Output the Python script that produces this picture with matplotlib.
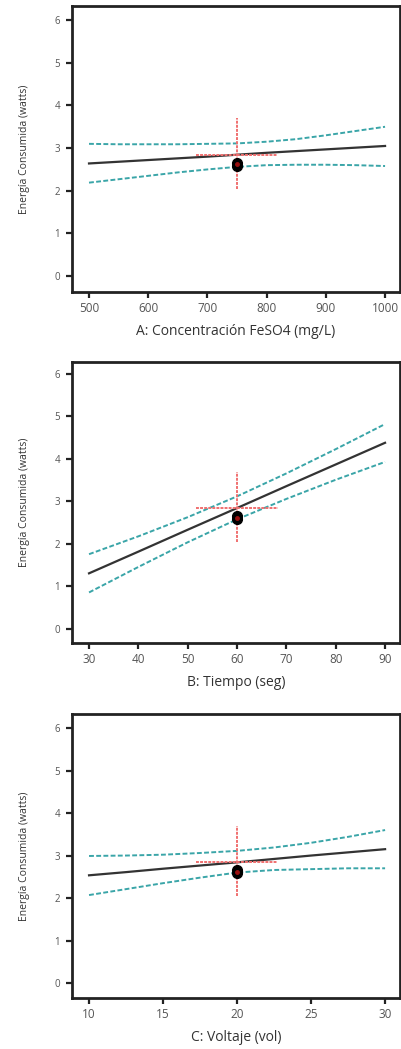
import matplotlib
matplotlib.use("Agg")
import matplotlib.pyplot as plt

plt.rcParams['font.family'] = ['Open Sans', 'DejaVu Sans']

# Factor A: FeSO4 concentration (mg/L)
a_ticks = [500, 600, 700, 800, 900, 1000]
a_x = [500, 550, 600, 650, 700, 750, 800, 850, 900, 950, 1000]
a_mean = [2.64, 2.68, 2.72, 2.76, 2.80, 2.845, 2.89, 2.93, 2.97, 3.01, 3.05]
a_upper = [3.10, 3.09, 3.09, 3.09, 3.10, 3.11, 3.15, 3.21, 3.30, 3.40, 3.50]
a_lower = [2.19, 2.27, 2.35, 2.43, 2.50, 2.56, 2.60, 2.61, 2.61, 2.60, 2.58]
a_center = 750
a_hbar = [680, 818]

# Factor B: time (seg)
b_ticks = [30, 40, 50, 60, 70, 80, 90]
b_x = [30, 40, 50, 60, 70, 80, 90]
b_mean = [1.31, 1.82, 2.335, 2.845, 3.36, 3.87, 4.38]
b_upper = [1.76, 2.18, 2.63, 3.12, 3.66, 4.23, 4.82]
b_lower = [0.86, 1.46, 2.04, 2.58, 3.06, 3.51, 3.93]
b_center = 60
b_hbar = [51.7, 68.3]

# Factor C: voltage (vol)
c_ticks = [10, 15, 20, 25, 30]
c_x = [10, 12.5, 15, 17.5, 20, 22.5, 25, 27.5, 30]
c_mean = [2.535, 2.61, 2.69, 2.765, 2.84, 2.92, 3.00, 3.075, 3.15]
c_upper = [2.99, 3.00, 3.02, 3.06, 3.11, 3.19, 3.30, 3.44, 3.60]
c_lower = [2.07, 2.21, 2.35, 2.48, 2.60, 2.66, 2.68, 2.70, 2.70]
c_center = 20
c_hbar = [17.2, 22.7]

# Shared response values
center_y = 2.85
vbar = [2.05, 3.70]
center_points = [2.58, 2.66]
y_ticks = [0, 1, 2, 3, 4, 5, 6]

panels = [
    dict(x=a_x, ticks=a_ticks, mean=a_mean, up=a_upper, lo=a_lower, c=a_center,
         hb=a_hbar, xlabel="A: Concentración FeSO4 (mg/L)", xlim=(471.3, 1025.3),
         ylim=(-0.375, 6.33), rect=[0.1796, 0.7216, 0.8180, 0.2726]),
    dict(x=b_x, ticks=b_ticks, mean=b_mean, up=b_upper, lo=b_lower, c=b_center,
         hb=b_hbar, xlabel="B: Tiempo (seg)", xlim=(26.55, 93.04),
         ylim=(-0.33, 6.28), rect=[0.1796, 0.3870, 0.8180, 0.2679]),
    dict(x=c_x, ticks=c_ticks, mean=c_mean, up=c_upper, lo=c_lower, c=c_center,
         hb=c_hbar, xlabel="C: Voltaje (vol)", xlim=(8.85, 31.01),
         ylim=(-0.353, 6.33), rect=[0.1796, 0.0486, 0.8180, 0.2707]),
]

fig = plt.figure(figsize=(4.01, 10.49), dpi=100)

teal = "#3aa5a8"
red = "#f07070"

for p in panels:
    ax = fig.add_axes(p["rect"])
    ax.plot(p["x"], p["up"], color=teal, lw=1.4, ls=(0, (2.5, 1.2)), zorder=2)
    ax.plot(p["x"], p["lo"], color=teal, lw=1.4, ls=(0, (2.5, 1.2)), zorder=2)
    ax.plot(p["x"], p["mean"], color="#333333", lw=1.6, zorder=3)
    # red cross marking the design centre
    ax.plot([p["c"], p["c"]], vbar, color=red, lw=1.4, ls=(0, (1.5, 0.6)), zorder=4)
    ax.plot(p["hb"], [center_y, center_y], color=red, lw=1.4, ls=(0, (1.5, 0.6)), zorder=4)
    ax.plot([p["c"]] * len(center_points), center_points, "o", color="black",
            ms=7, zorder=5)
    ax.plot([p["c"]], [sum(center_points) / len(center_points)], "o",
            color="#9a1010", ms=2.5, zorder=6)

    ax.set_xlim(*p["xlim"])
    ax.set_ylim(*p["ylim"])
    ax.set_xticks(p["ticks"])
    ax.set_yticks(y_ticks)
    ax.set_xticklabels([str(v) for v in p["ticks"]])
    ax.tick_params(direction="out", length=4.5, width=1.6, color="#222222",
                   labelcolor="#555555", pad=4)
    ax.tick_params(axis="x", labelsize=8.5, pad=3)
    ax.tick_params(axis="y", labelsize=7)
    for s in ax.spines.values():
        s.set_linewidth(2.0)
        s.set_color("#222222")
    ax.set_xlabel(p["xlabel"], fontsize=10, color="#333333", labelpad=6)
    ax.set_ylabel("Energía Consumida (watts)", fontsize=7.5, color="#333333",
                  labelpad=18)

fig.savefig("out.png", dpi=100)
